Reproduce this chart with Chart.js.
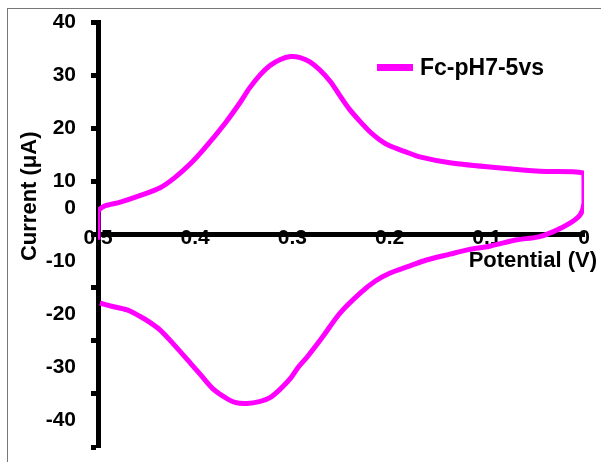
<!DOCTYPE html>
<html>
<head>
<meta charset="utf-8">
<script src="https://cdn.jsdelivr.net/npm/chart.js@4.4.0/dist/chart.umd.min.js"></script>
<style>
  body { margin: 0; background: #fff; }
  #wrap { position: relative; width: 601px; height: 462px; }
  #frame { position: absolute; left: 7px; top: 8px; right: 0; bottom: 0;
           border-left: 1px solid #777; border-top: 1px solid #777; pointer-events: none; }
  canvas { position: absolute; left: 0; top: 0; }
  #legend { position: absolute; left: 377px; top: 55px; }
  #legend .item { display: flex; align-items: center; height: 24px;
                  font: bold 23px 'Liberation Sans', Arial, sans-serif; color: #000; }
  #legend .swatch { display: inline-block; width: 36px; height: 7px; margin-right: 7px; }
</style>
</head>
<body>
<div id="wrap">
  <canvas id="cv" width="601" height="462"></canvas>
  <div id="frame"></div>
  <div id="legend"></div>
</div>
<script>
"use strict";

// cyclic voltammogram, Fc pH7 at 5 V/s
// forward sweep (upper branch), then back (lower branch)
const potential = [
  0.500, 0.500, 0.498, 0.493, 0.477, 0.457, 0.436, 0.421, 0.405, 0.390,
  0.369, 0.354, 0.344, 0.333, 0.323, 0.313, 0.302, 0.292, 0.282, 0.272,
  0.261, 0.251, 0.241, 0.230, 0.220, 0.210, 0.200, 0.184, 0.169, 0.138,
  0.086, 0.045, 0.001,
  0.000, 0.000, 0.004, 0.014, 0.032, 0.048, 0.069, 0.097, 0.120, 0.138,
  0.162, 0.179, 0.200, 0.215, 0.230, 0.251, 0.269, 0.285, 0.294, 0.302,
  0.313, 0.323, 0.333, 0.347, 0.359, 0.369, 0.382, 0.395, 0.405, 0.423,
  0.436, 0.447, 0.457, 0.470, 0.486, 0.498
];
const current = [
  -1.0, 4.2, 4.8, 5.4, 6.1, 7.3, 8.8, 10.7, 13.3, 16.3,
  21.0, 24.8, 27.6, 30.1, 31.8, 32.9, 33.5, 33.3, 32.5, 31.0,
  28.8, 26.1, 23.5, 21.2, 19.3, 17.8, 16.7, 15.6, 14.6, 13.5,
  12.5, 11.9, 11.6,
  10.3, 5.9, 3.7, 2.2, 0.5, -0.5, -1.0, -2.2, -2.9, -3.7,
  -4.8, -5.9, -7.3, -8.8, -11.0, -14.8, -19.3, -23.1, -25.0, -27.1,
  -29.2, -30.7, -31.4, -31.8, -31.6, -30.7, -29.0, -26.3, -24.2, -20.5,
  -18.0, -16.5, -15.4, -14.2, -13.5, -12.9
];
const seriesName = "Fc-pH7-5vs";

// axis ticks
const xTickValues = [0, 0.1, 0.2, 0.3, 0.4, 0.5];
const xTickLabels = ["0", "0.1", "0.2", "0.3", "0.4", "0.5"];
const yTickValues = [40, 30, 20, 10, 0, -10, -20, -30, -40];
const yTickLabels = ["40", "30", "20", "10", "0", "-10", "-20", "-30", "-40"];
const yStep = 10;

const FONT = "'Liberation Sans', Arial, sans-serif";
const MAGENTA = "#ff00ff";

Chart.defaults.font.family = FONT;
Chart.defaults.font.weight = "bold";
Chart.defaults.color = "#000";

// axis titles drawn as text on the canvas
const axisTitles = {
  id: "axisTitles",
  afterDraw(chart) {
    const ctx = chart.ctx;
    const area = chart.chartArea;
    ctx.save();
    ctx.fillStyle = "#000";
    ctx.font = "bold 22px " + FONT;
    ctx.textBaseline = "middle";
    // x title, right end, just under the axis
    const y0 = chart.scales.y.getPixelForValue(0);
    ctx.textAlign = "right";
    ctx.fillText("Potential (V)", area.right + 13, y0 + 26);
    // y title, rotated
    ctx.translate(30, area.top + (area.bottom - area.top) * 0.41);
    ctx.rotate(-Math.PI / 2);
    ctx.textAlign = "center";
    ctx.fillText("Current (\u03bcA)", 0, 0);
    ctx.restore();
  },
};

// legend as html, sitting inside the plot
const htmlLegend = {
  id: "htmlLegend",
  afterUpdate(chart) {
    const box = document.getElementById("legend");
    box.innerHTML = "";
    Chart.defaults.plugins.legend.labels.generateLabels(chart).forEach((item) => {
      const row = document.createElement("div");
      row.classList.add("item");
      const swatch = document.createElement("span");
      swatch.classList.add("swatch");
      swatch.style.background = item.strokeStyle;
      const text = document.createElement("span");
      text.textContent = item.text;
      row.appendChild(swatch);
      row.appendChild(text);
      box.appendChild(row);
    });
  },
};

const ctx = document.getElementById("cv").getContext("2d");
new Chart(ctx, {
  type: "line",
  data: {
    datasets: [
      {
        label: seriesName,
        data: potential.map((v, i) => ({ x: v, y: current[i] })),
        borderColor: MAGENTA,
        backgroundColor: MAGENTA,
        borderWidth: 5,
        pointRadius: 0,
        tension: 0.3,
        fill: false,
      },
    ],
  },
  options: {
    responsive: false,
    animation: false,
    layout: { padding: { left: 0, right: 17, top: 22, bottom: 15 } },
    plugins: {
      tooltip: { enabled: false },
      legend: { display: false },
    },
    scales: {
      x: {
        type: "linear",
        reverse: true,
        min: 0,
        max: 0.5,
        position: { y: 0 },
        afterBuildTicks: (scale) => {
          scale.ticks = xTickValues.map((v) => ({ value: v }));
        },
        ticks: {
          padding: -9,
          maxRotation: 0,
          autoSkip: false,
          font: { size: 21, weight: "bold" },
          callback: (v) => xTickLabels[xTickValues.indexOf(v)],
        },
        grid: { display: true, drawOnChartArea: false, drawTicks: false },
        border: { display: true, color: "#000", width: 5 },
      },
      // labels only, the ones from 0 down sit half a step higher
      yLabels: {
        type: "linear",
        position: "left",
        weight: 1,
        min: -40,
        max: 40,
        afterBuildTicks: (scale) => {
          scale.ticks = yTickValues.map((v) => ({ value: v > 0 ? v : v + yStep / 2 }));
        },
        afterFit: (scale) => {
          scale.width = 77;
        },
        ticks: {
          padding: 1,
          autoSkip: false,
          font: { size: 21, weight: "bold" },
          callback: (v, i) => yTickLabels[i],
        },
        grid: { display: false, drawTicks: false },
        border: { display: false },
      },
      y: {
        type: "linear",
        position: "left",
        weight: 0,
        min: -40,
        max: 40,
        afterBuildTicks: (scale) => {
          scale.ticks = yTickValues.map((v) => ({ value: v }));
        },
        afterFit: (scale) => {
          scale.width = 21;
        },
        ticks: { display: false },
        grid: {
          display: true,
          drawOnChartArea: false,
          drawTicks: true,
          tickLength: 7,
          tickWidth: 5,
          tickColor: "#000",
        },
        border: { display: true, color: "#000", width: 5 },
      },
    },
  },
  plugins: [axisTitles, htmlLegend],
});
</script>
</body>
</html>
